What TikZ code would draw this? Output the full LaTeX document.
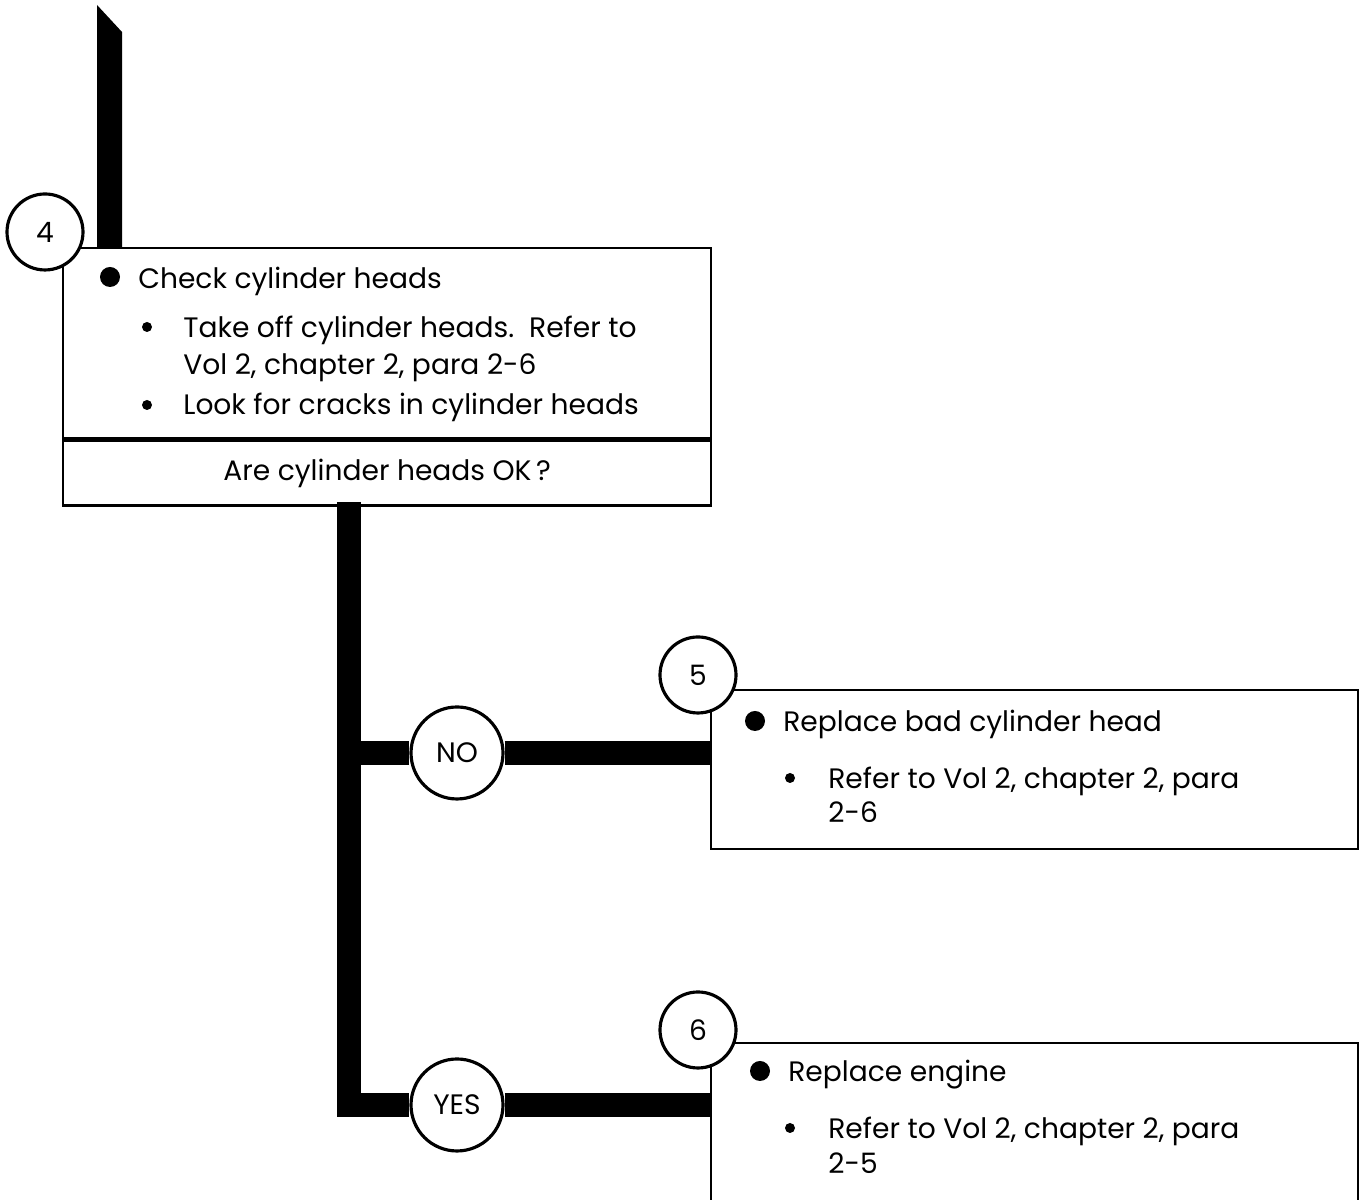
\documentclass[tikz,border=0pt]{standalone}
\usepackage{fontspec}
\setmainfont{Poppins}
\usetikzlibrary{positioning}

\tikzset{
  box/.style={draw, line width=1.4pt, inner sep=0pt, anchor=north west},
  tag/.style={circle, draw, fill=white, line width=1.8pt, inner sep=0pt, minimum size=1.52cm},
  gate/.style={circle, draw, fill=white, line width=1.8pt, inner sep=0pt, minimum size=1.84cm},
  flow/.style={line width=0.48cm},
  line/.style={anchor=base west, inner sep=0pt}
}

\begin{document}
\begin{tikzpicture}[font=\fontsize{16}{19}\selectfont]

\clip (0, 0) rectangle (27.24, 24);

% boxes
\node[box, minimum width=12.96cm, minimum height=3.8cm] (check) at (1.24, 19.06) {};
\node[box, minimum width=12.96cm, minimum height=1.3cm] (query) at (check.south west) {};
\node at (query.center) {Are cylinder heads OK\,?};

\node[box, minimum width=12.94cm, minimum height=3.18cm] (fix) at (14.2, 10.22) {};
\node[box, minimum width=12.94cm, minimum height=4.2cm] (swap) at (14.2, 3.16) {};

% box texts
\fill (2.2, 18.46) circle (0.2);
\node[line] (c1) at (2.76, 18.22) {Check cylinder heads};
\fill (2.94, 17.46) circle (0.1);
\node[line] (c2) at (3.66, 17.24) {Take off cylinder heads.\ \ Refer to};
\node[line] (c3) at (3.66, 16.5) {Vol 2, chapter 2, para 2-6};
\fill (2.94, 15.9) circle (0.1);
\node[line] (c4) at (3.66, 15.7) {Look for cracks in cylinder heads};

\fill (15.1, 9.58) circle (0.2);
\node[line] (f1) at (15.66, 9.36) {Replace bad cylinder head};
\fill (15.8, 8.44) circle (0.1);
\node[line] (f2) at (16.56, 8.22) {Refer to Vol 2, chapter 2, para};
\node[line] (f3) at (16.56, 7.54) {2-6};

\fill (15.2, 2.58) circle (0.2);
\node[line] (s1) at (15.76, 2.36) {Replace engine};
\fill (15.8, 1.44) circle (0.1);
\node[line] (s2) at (16.56, 1.22) {Refer to Vol 2, chapter 2, para};
\node[line] (s3) at (16.56, 0.52) {2-5};

% circles
\node[tag] (n4) at (0.9, 19.36) {4};
\node[tag] (n5) at (13.96, 10.5) {5};
\node[tag] (n6) at (13.96, 3.4) {6};

\node[gate] (no) at (9.14, 8.94) {NO};
\node[gate] (yes) at (9.14, 1.9) {YES};

% flow bars
\fill (1.94, 23.9) -- (2.44, 23.36) -- (2.44, 19.04) -- (1.94, 19.04) -- cycle;

\coordinate (spine) at (6.98, 13.96);
\draw[flow] (spine) |- (yes);
\draw[flow] (spine |- no) -- (no);
\draw[flow] (no) -- (no -| fix.west);
\draw[flow] (yes) -- (yes -| swap.west);

\end{tikzpicture}
\end{document}
